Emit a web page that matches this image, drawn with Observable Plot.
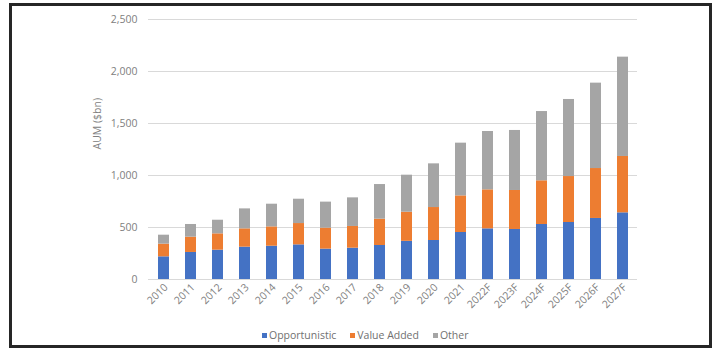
<!DOCTYPE html>
<html>
<head>
<meta charset="utf-8">
<script src="https://cdn.jsdelivr.net/npm/d3@7"></script>
<script src="https://cdn.jsdelivr.net/npm/@observablehq/plot@0.6"></script>
<style>
  html, body { margin: 0; padding: 0; background: #fff; }
  #wrap { position: relative; width: 720px; height: 349px; background: #fff; overflow: hidden; font-family: "Open Sans", sans-serif; }
  #frame { position: absolute; left: 9px; top: 3px; width: 697px; height: 339px; border: 3px solid #262626; pointer-events: none; }
  #chart { position: absolute; left: 0; top: 0; }
  #legend { position: absolute; top: 328px; left: 262px; display: flex; align-items: center; font-size: 10.5px; color: #707070; white-space: nowrap; }
  #legend .item { display: flex; align-items: center; margin-right: 14px; }
  #legend .sw { width: 5px; height: 5px; margin-right: 2px; }
</style>
</head>
<body>
<div id="wrap">
  <div id="chart"></div>
  <div id="legend"></div>
  <div id="frame"></div>
</div>
<script>
const years = ["2010","2011","2012","2013","2014","2015","2016","2017","2018","2019","2020","2021","2022F","2023F","2024F","2025F","2026F","2027F"];
const series = ["Opportunistic", "Value Added", "Other"];
const colors = ["#4472C4", "#ED7D31", "#A5A5A5"];
const opportunistic = [218,260,282,311,320,333,292,301,327,367,375,452,487,481,529,548,587,641];
const valueAdded    = [122,147,157,176,186,205,202,209,253,280,317,352,375,375,420,442,480,542];
const other         = [86,122,131,192,218,234,250,275,333,356,420,507,561,577,666,741,821,955];
const yTicks = [0, 500, 1000, 1500, 2000, 2500];

const values = [opportunistic, valueAdded, other];
const data = [];
series.forEach((s, si) => years.forEach((y, i) => data.push({year: y, series: s, value: values[si][i]})));

const chart = Plot.plot({
  width: 720,
  height: 322,
  marginTop: 19,
  marginBottom: 43,
  marginLeft: 148,
  marginRight: 83,
  style: {fontFamily: "Open Sans, sans-serif", fontSize: "10.5px", color: "#808080", background: "transparent", overflow: "visible"},
  x: {domain: years, paddingInner: 0.6, paddingOuter: 0.3},
  y: {domain: [0, 2500]},
  color: {domain: series, range: colors},
  marks: [
    Plot.gridY(yTicks, {stroke: "#d9d9d9", strokeOpacity: 1, strokeWidth: 1}),
    Plot.barY(data, {x: "year", y: "value", fill: "series", order: series}),
    Plot.axisY(yTicks, {tickSize: 0, tickPadding: 11, tickFormat: d3.format(","), label: null}),
    Plot.text(["AUM ($bn)"], {frameAnchor: "left", dx: -51, rotate: -90, fontSize: 10.5, fill: "#808080"}),
    Plot.axisX({tickSize: 0, tickPadding: 6, dx: 2, tickRotate: -45, label: null})
  ]
});
document.getElementById("chart").appendChild(chart);

const legend = document.getElementById("legend");
series.forEach((s, i) => {
  const item = document.createElement("div");
  item.className = "item";
  const sw = document.createElement("div");
  sw.className = "sw";
  sw.style.background = colors[i];
  const t = document.createElement("span");
  t.textContent = s;
  item.appendChild(sw);
  item.appendChild(t);
  legend.appendChild(item);
});
</script>
</body>
</html>
